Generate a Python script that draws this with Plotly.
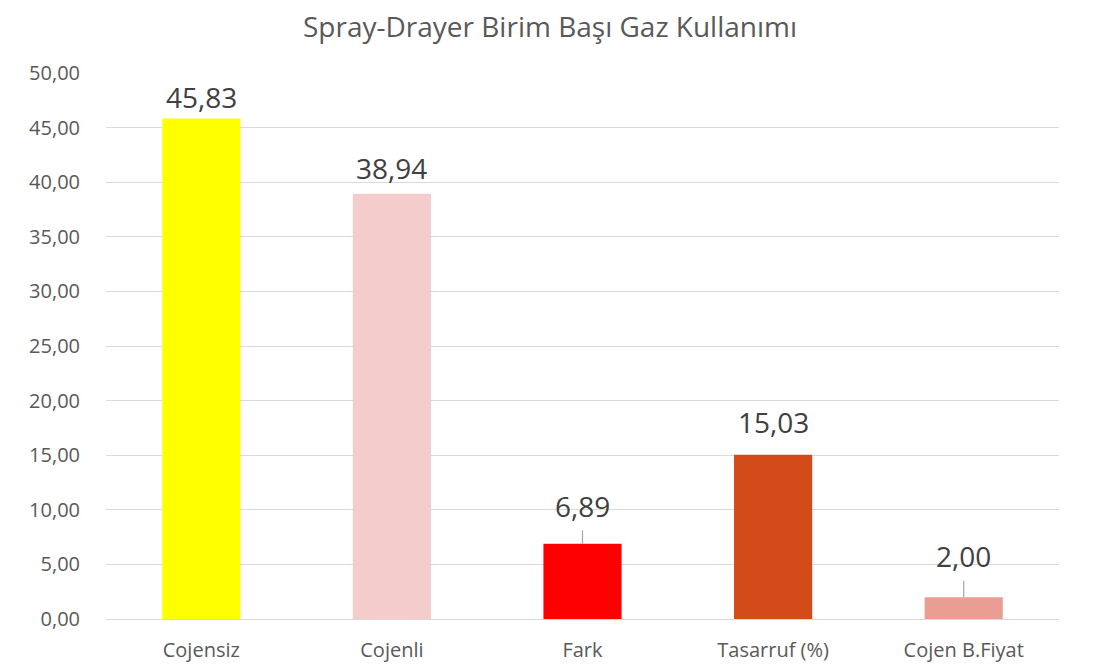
import plotly.graph_objects as go

categories = ["Cojensiz", "Cojenli", "Fark", "Tasarruf (%)", "Cojen B.Fiyat"]
values = [45.83, 38.94, 6.89, 15.03, 2.00]
colors = ["#FFFF00", "#F4CCCC", "#FF0000", "#D24B18", "#EA9D93"]
tick_vals = [0, 5, 10, 15, 20, 25, 30, 35, 40, 45, 50]
tick_text = ["0,00", "5,00", "10,00", "15,00", "20,00", "25,00", "30,00", "35,00", "40,00", "45,00", "50,00"]
label_text = [f"{v:.2f}".replace(".", ",") for v in values]
# label placement styling (pixel offset of label centre above bar top; leader line flag)
label_offset = [22, 26, 38, 33, 41]
leader = [False, False, True, False, True]

fig = go.Figure()
fig.add_trace(go.Bar(
    x=categories, y=values, marker=dict(color=colors, line=dict(width=0)),
    width=0.41, hoverinfo="skip",
))

for cat, v, t, off, ld in zip(categories, values, label_text, label_offset, leader):
    if ld:
        fig.add_annotation(x=cat, y=v, text=t, showarrow=True, arrowhead=0,
                           arrowwidth=1.2, arrowcolor="#A6A6A6", ax=0, ay=-off,
                           startstandoff=4,
                           font=dict(family="Open Sans", size=28, color="#404040"))
    else:
        fig.add_annotation(x=cat, y=v, text=t, showarrow=False, yanchor="middle",
                           yshift=off,
                           font=dict(family="Open Sans", size=28, color="#404040"))

fig.update_layout(
    width=1097, height=666,
    paper_bgcolor="white", plot_bgcolor="white",
    margin=dict(l=98, r=46, t=65, b=55, autoexpand=False),
    showlegend=False,
    title=dict(text="Spray-Drayer Birim Başı Gaz Kullanımı", x=(550 - 8) / 1097, xanchor="center",
               y=1 - 19 / 666, yanchor="middle", yref="container",
               font=dict(family="Open Sans", size=28, color="#595959")),
    font=dict(family="Open Sans", color="#595959"),
)
fig.update_xaxes(showgrid=False, showline=False, ticks="", zeroline=False,
                 ticklabelstandoff=17,
                 tickfont=dict(family="Open Sans", size=20, color="#595959"))
fig.update_yaxes(range=[0, 50], tickvals=tick_vals, ticktext=tick_text,
                 showgrid=True, gridcolor="#D9D9D9", gridwidth=1.3,
                 zeroline=True, zerolinecolor="#D9D9D9", zerolinewidth=1.3,
                 showline=False, ticks="", ticklabelstandoff=25,
                 tickfont=dict(family="Open Sans", size=20, color="#595959"))

fig.write_html("out.html")
